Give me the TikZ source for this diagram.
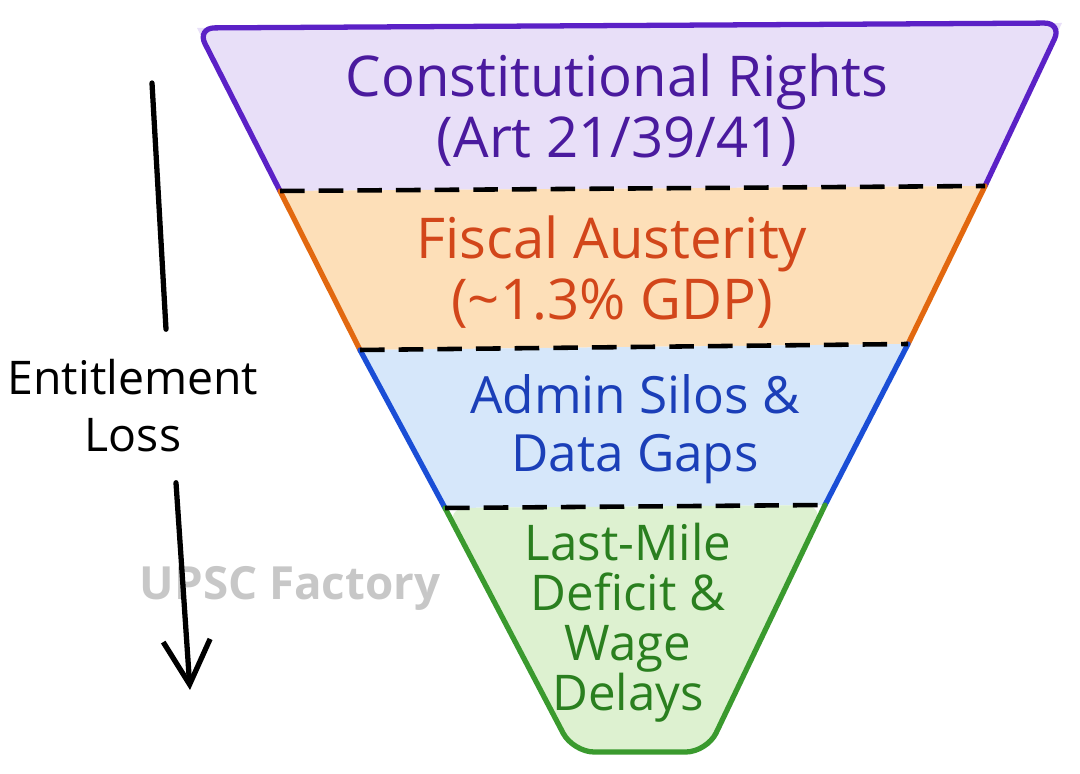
\documentclass[tikz,border=0pt]{standalone}
\usepackage{fontspec}
\setmainfont{Open Sans}
\usetikzlibrary{arrows.meta}

\definecolor{rightsline}{HTML}{5B21C6}
\definecolor{rightsfill}{HTML}{E8DFF8}
\definecolor{rightstext}{HTML}{4A1A9E}
\definecolor{fiscalline}{HTML}{E2680F}
\definecolor{fiscalfill}{HTML}{FDDFB8}
\definecolor{fiscaltext}{HTML}{D2461A}
\definecolor{silosline}{HTML}{1A4ED6}
\definecolor{silosfill}{HTML}{D6E7FA}
\definecolor{silostext}{HTML}{1B3FB8}
\definecolor{mileline}{HTML}{3A9A2E}
\definecolor{milefill}{HTML}{DDF1D0}
\definecolor{miletext}{HTML}{2A7F1F}

\tikzset{
	side/.style={line width=1.5pt, line cap=round, line join=round},
	cut/.style={line width=1.3pt, dash pattern=on 7pt off 4pt},
	bandtext/.style={align=center, font=\fontsize{16}{17.5}\selectfont},
}

\begin{document}
\begin{tikzpicture}
			%%%%% START %%%%%
			\useasboundingbox (0,0) rectangle (10.8,7.74);
			
			\coordinate (tl) at (1.97,7.46);
			\coordinate (tr) at (10.62,7.51);
			\coordinate (l1) at (2.80,5.83);
			\coordinate (r1) at (9.85,5.88);
			\coordinate (l2) at (3.60,4.24);
			\coordinate (r2) at (9.08,4.30);
			\coordinate (l3) at (4.45,2.66);
			\coordinate (r3) at (8.25,2.69);
			\coordinate (bl) at (5.73,0.22);
			\coordinate (br) at (7.07,0.22);
			
			\fill[rightsfill] (tl) -- (tr) -- (r1) -- (l1) -- cycle;
			\fill[fiscalfill] (l1) -- (r1) -- (r2) -- (l2) -- cycle;
			\fill[silosfill] (l2) -- (r2) -- (r3) -- (l3) -- cycle;
			\fill[milefill, rounded corners=6pt] (l3) -- (r3) -- (br) -- (bl) -- cycle;
			
			\draw[side, rightsline, rounded corners=5pt] (l1) -- (tl) -- (tr) -- (r1);
			\draw[side, fiscalline] (l1) -- (l2);
			\draw[side, fiscalline] (r1) -- (r2);
			\draw[side, silosline] (l2) -- (l3);
			\draw[side, silosline] (r2) -- (r3);
			\draw[side, mileline, rounded corners=6pt] (l3) -- (bl) -- (br) -- (r3);
			
			\draw[cut] (l1) -- (r1);
			\draw[cut] (l2) -- (r2);
			\draw[cut] (l3) -- (r3);
			
			\node[bandtext, text=rightstext] (rights) at (6.17,6.64) {Constitutional Rights\\(Art 21/39/41)};
			\node[bandtext, text=fiscaltext] (fiscal) at (6.12,5.02) {Fiscal Austerity\\(\textasciitilde1.3\% GDP)};
			\node[bandtext, text=silostext, font=\fontsize{14.6}{16.5}\selectfont] (silos) at (6.35,3.45) {Admin Silos \&\\Data Gaps};
			\node[bandtext, text=miletext, font=\fontsize{14}{14.2}\selectfont] (mile) at (6.28,1.51) {Last-Mile\\Deficit \&\\Wage\\Delays};
			
			%%%%% SIDE ARROW %%%%%
			\node[text=black!22, font=\bfseries\fontsize{13}{15}\selectfont] (mark) at (2.90,1.86) {UPSC Factory};
			
			\node[bandtext, font=\fontsize{13.2}{16.2}\selectfont] (loss) at (1.33,3.68) {Entitlement\\Loss};
			\coordinate (start) at (1.52,6.91);
			\coordinate (tip) at (1.90,0.84);
			\draw[line width=1.5pt, line cap=round] (start) -- ([xshift=3.3mm,yshift=1.8mm]loss.north);
			\draw[line width=1.5pt, line cap=round, -{Straight Barb[length=4.4mm,width=4.7mm]}] ([xshift=4.3mm,yshift=-1.8mm]loss.south) -- (tip);
			
			%%%%% END %%%%%
\end{tikzpicture}
\end{document}
